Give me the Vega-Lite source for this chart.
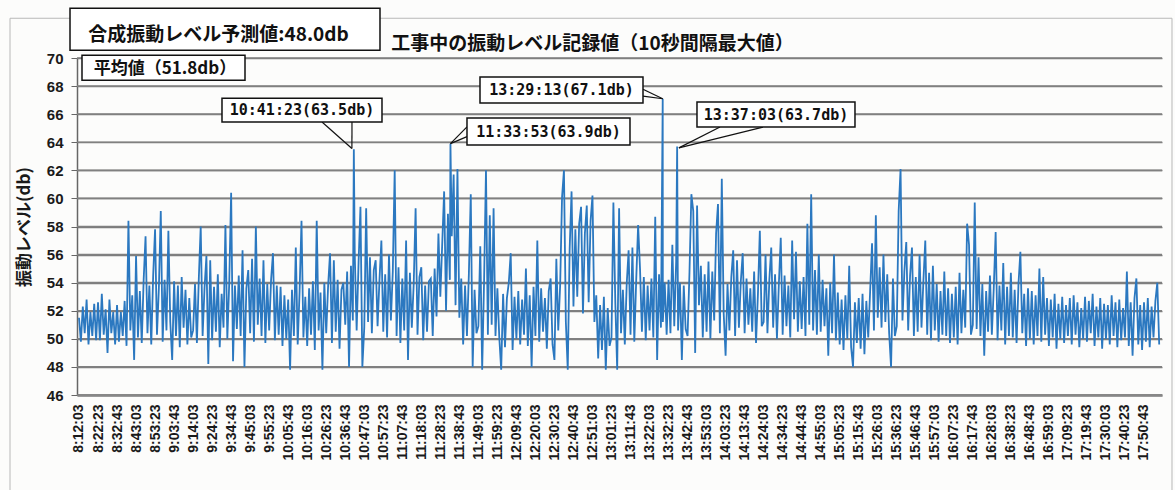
{
  "$schema": "https://vega.github.io/schema/vega-lite/v6.json",
  "width": 1085,
  "height": 337,
  "autosize": {"type": "none"},
  "padding": {"left": 77, "top": 58, "right": 13, "bottom": 95},
  "background": "#fcfcfb",
  "config": {
    "view": {"stroke": null},
    "axis": {"labelFont": "Liberation Sans", "labelFontWeight": "bold", "labelColor": "#1a1a1a", "titleFont": "Noto Sans CJK JP", "titleFontWeight": "bold", "titleColor": "#1a1a1a"}
  },
  "datasets": {
    "frame": [{"s": 27274, "s2": 65156, "v": 37.5, "v2": 72.83}],
    "levels": [
      {"v": 46, "s": 29458, "s2": 64830, "v2": 46}, {"v": 48, "s": 29458, "s2": 64830, "v2": 48}, {"v": 50, "s": 29458, "s2": 64830, "v2": 50}, {"v": 52, "s": 29458, "s2": 64830, "v2": 52},
      {"v": 54, "s": 29458, "s2": 64830, "v2": 54}, {"v": 56, "s": 29458, "s2": 64830, "v2": 56}, {"v": 58, "s": 29458, "s2": 64830, "v2": 58}, {"v": 60, "s": 29458, "s2": 64830, "v2": 60},
      {"v": 62, "s": 29458, "s2": 64830, "v2": 62}, {"v": 64, "s": 29458, "s2": 64830, "v2": 64}, {"v": 66, "s": 29458, "s2": 64830, "v2": 66}, {"v": 68, "s": 29458, "s2": 64830, "v2": 68},
      {"v": 70, "s": 29458, "s2": 64830, "v2": 70}
    ],
    "boxes": [
      {"s": 29230, "s2": 39336, "v": 70.55, "v2": 73.54},
      {"s": 29621, "s2": 34935, "v": 68.42, "v2": 70.2},
      {"s": 34185, "s2": 39401, "v": 65.44, "v2": 67.14},
      {"s": 42172, "s2": 47486, "v": 63.8, "v2": 65.72},
      {"s": 42596, "s2": 47910, "v": 66.79, "v2": 68.64},
      {"s": 49670, "s2": 54821, "v": 65.08, "v2": 66.86}
    ],
    "headings": [
      {"kind": "title", "label": "工事中の振動レベル記録値（10秒間隔最大値）", "s": 46264, "v": 70.98},
      {"kind": "forecast", "label": "合成振動レベル予測値:48.0db", "s": 34071, "v": 71.65},
      {"kind": "mean", "label": "平均値（51.8db）", "s": 32327, "v": 69.25}
    ],
    "callouts": [
      {"label": "10:41:23(63.5db)", "s": 36793, "v": 66.29},
      {"label": "11:33:53(63.9db)", "s": 44829, "v": 64.76},
      {"label": "13:29:13(67.1db)", "s": 45253, "v": 67.71},
      {"label": "13:37:03(63.7db)", "s": 52246, "v": 65.97}
    ],
    "tails": [
      {"s": 37445, "v": 65.44, "s2": 38420, "v2": 63.55},
      {"s": 38423, "v": 65.44, "s2": 38420, "v2": 63.55},
      {"s": 42172, "v": 65.1, "s2": 41633, "v2": 63.9},
      {"s": 42172, "v": 64.4, "s2": 41633, "v2": 63.9},
      {"s": 47910, "v": 67.78, "s2": 48553, "v2": 67.1},
      {"s": 47910, "v": 67.29, "s2": 48553, "v2": 67.1},
      {"s": 50420, "v": 65.08, "s2": 49080, "v2": 63.6},
      {"s": 51822, "v": 65.08, "s2": 49080, "v2": 63.6}
    ],
    "vib": [
      {"s":29523,"v":51.5},{"s":29585,"v":49.8},{"s":29647,"v":52.3},{"s":29709,"v":50.4},{"s":29771,"v":52.8},{"s":29833,"v":49.6},{"s":29895,"v":51.9},{"s":29957,"v":50.2},{"s":30019,"v":52.5},{"s":30081,"v":49.9},
      {"s":30143,"v":52.6},{"s":30205,"v":49.9},{"s":30267,"v":53.2},{"s":30329,"v":50.3},{"s":30391,"v":52.1},{"s":30453,"v":49.0},{"s":30515,"v":52.8},{"s":30577,"v":50.4},{"s":30639,"v":51.9},{"s":30701,"v":49.6},
      {"s":30763,"v":52.4},{"s":30825,"v":49.8},{"s":30887,"v":51.9},{"s":30949,"v":50.2},{"s":31011,"v":52.7},{"s":31073,"v":49.5},{"s":31135,"v":58.4},{"s":31197,"v":50.6},{"s":31259,"v":53.1},{"s":31321,"v":48.5},
      {"s":31383,"v":55.9},{"s":31445,"v":50.1},{"s":31507,"v":53.4},{"s":31569,"v":49.7},{"s":31631,"v":54.2},{"s":31693,"v":57.3},{"s":31755,"v":50.4},{"s":31817,"v":53.8},{"s":31879,"v":49.6},{"s":31941,"v":54.5},
      {"s":32003,"v":57.8},{"s":32065,"v":50.3},{"s":32127,"v":53.6},{"s":32189,"v":59.1},{"s":32251,"v":49.8},{"s":32313,"v":54.2},{"s":32375,"v":50.6},{"s":32437,"v":57.7},{"s":32499,"v":51.2},{"s":32561,"v":48.5},
      {"s":32623,"v":54.1},{"s":32685,"v":50.2},{"s":32747,"v":53.8},{"s":32809,"v":49.4},{"s":32871,"v":54.4},{"s":32933,"v":50.8},{"s":32995,"v":53.5},{"s":33057,"v":49.6},{"s":33119,"v":52.9},{"s":33181,"v":50.1},
      {"s":33243,"v":50.6},{"s":33305,"v":53.9},{"s":33367,"v":49.7},{"s":33429,"v":54.3},{"s":33491,"v":58.0},{"s":33553,"v":50.2},{"s":33615,"v":53.6},{"s":33677,"v":55.9},{"s":33739,"v":48.2},{"s":33801,"v":55.6},
      {"s":33863,"v":49.9},{"s":33925,"v":53.7},{"s":33987,"v":50.5},{"s":34049,"v":54.6},{"s":34111,"v":49.4},{"s":34173,"v":53.2},{"s":34235,"v":50.8},{"s":34297,"v":58.1},{"s":34359,"v":50.0},{"s":34421,"v":54.0},
      {"s":34483,"v":60.4},{"s":34545,"v":48.4},{"s":34607,"v":53.8},{"s":34669,"v":50.7},{"s":34731,"v":54.5},{"s":34793,"v":50.2},{"s":34855,"v":56.3},{"s":34917,"v":48.0},{"s":34979,"v":53.6},{"s":35041,"v":54.9},
      {"s":35103,"v":50.4},{"s":35165,"v":55.7},{"s":35227,"v":49.8},{"s":35289,"v":58.0},{"s":35351,"v":51.0},{"s":35413,"v":54.3},{"s":35475,"v":50.2},{"s":35537,"v":55.6},{"s":35599,"v":49.7},{"s":35661,"v":53.9},
      {"s":35723,"v":50.6},{"s":35785,"v":54.2},{"s":35847,"v":56.1},{"s":35909,"v":49.9},{"s":35971,"v":53.8},{"s":36033,"v":50.3},{"s":36095,"v":53.7},{"s":36157,"v":49.5},{"s":36219,"v":53.1},{"s":36281,"v":50.0},
      {"s":36343,"v":52.8},{"s":36405,"v":47.8},{"s":36467,"v":53.5},{"s":36529,"v":50.2},{"s":36591,"v":56.5},{"s":36653,"v":49.6},{"s":36715,"v":53.4},{"s":36777,"v":58.4},{"s":36839,"v":50.1},{"s":36901,"v":53.0},
      {"s":36963,"v":49.5},{"s":37025,"v":53.6},{"s":37087,"v":50.3},{"s":37149,"v":54.1},{"s":37211,"v":49.2},{"s":37273,"v":58.4},{"s":37335,"v":50.6},{"s":37397,"v":53.3},{"s":37459,"v":47.8},{"s":37521,"v":54.0},
      {"s":37583,"v":50.4},{"s":37645,"v":53.8},{"s":37707,"v":56.1},{"s":37769,"v":49.7},{"s":37831,"v":55.6},{"s":37893,"v":50.5},{"s":37955,"v":54.2},{"s":38017,"v":49.3},{"s":38079,"v":53.5},{"s":38141,"v":54.0},
      {"s":38203,"v":51.0},{"s":38265,"v":54.8},{"s":38327,"v":48.0},{"s":38389,"v":55.2},{"s":38451,"v":51.3},{"s":38483,"v":63.5},{"s":38513,"v":56.0},{"s":38575,"v":50.6},{"s":38637,"v":55.4},{"s":38699,"v":59.4},{"s":38761,"v":48.0},
      {"s":38823,"v":50.8},{"s":38885,"v":59.3},{"s":38947,"v":51.2},{"s":39009,"v":55.8},{"s":39071,"v":50.4},{"s":39133,"v":54.9},{"s":39195,"v":55.6},{"s":39257,"v":50.9},{"s":39319,"v":54.2},{"s":39381,"v":57.0},
      {"s":39443,"v":50.5},{"s":39505,"v":54.6},{"s":39567,"v":50.1},{"s":39629,"v":56.0},{"s":39691,"v":51.3},{"s":39753,"v":54.8},{"s":39815,"v":62.0},{"s":39877,"v":50.2},{"s":39939,"v":55.1},{"s":40001,"v":49.7},
      {"s":40063,"v":54.3},{"s":40125,"v":50.6},{"s":40187,"v":57.0},{"s":40249,"v":48.5},{"s":40311,"v":54.7},{"s":40373,"v":50.8},{"s":40435,"v":53.9},{"s":40497,"v":59.3},{"s":40559,"v":50.3},{"s":40621,"v":54.4},
      {"s":40683,"v":55.1},{"s":40745,"v":49.9},{"s":40807,"v":53.8},{"s":40869,"v":50.5},{"s":40931,"v":54.1},{"s":40993,"v":54.3},{"s":41055,"v":50.2},{"s":41117,"v":55.0},{"s":41179,"v":51.6},{"s":41241,"v":57.5},
      {"s":41303,"v":53.0},{"s":41365,"v":56.8},{"s":41427,"v":60.5},{"s":41489,"v":52.0},{"s":41551,"v":58.9},{"s":41613,"v":54.2},{"s":41633,"v":63.9},{"s":41675,"v":57.3},{"s":41737,"v":61.7},{"s":41799,"v":52.4},{"s":41861,"v":62.1},
      {"s":41923,"v":51.5},{"s":41985,"v":54.3},{"s":42047,"v":49.6},{"s":42109,"v":53.8},{"s":42171,"v":50.2},{"s":42233,"v":54.6},{"s":42295,"v":60.3},{"s":42357,"v":48.0},{"s":42419,"v":53.5},{"s":42481,"v":50.4},
      {"s":42543,"v":50.9},{"s":42605,"v":56.6},{"s":42667,"v":47.8},{"s":42729,"v":54.1},{"s":42791,"v":62.0},{"s":42853,"v":50.3},{"s":42915,"v":58.8},{"s":42977,"v":51.0},{"s":43039,"v":59.3},{"s":43101,"v":50.2},
      {"s":43163,"v":53.6},{"s":43225,"v":50.1},{"s":43287,"v":47.8},{"s":43349,"v":53.2},{"s":43411,"v":49.4},{"s":43473,"v":52.9},{"s":43535,"v":54.0},{"s":43597,"v":56.1},{"s":43659,"v":49.2},{"s":43721,"v":53.0},
      {"s":43783,"v":50.0},{"s":43845,"v":53.4},{"s":43907,"v":49.6},{"s":43969,"v":52.8},{"s":44031,"v":50.3},{"s":44093,"v":55.0},{"s":44155,"v":49.5},{"s":44217,"v":53.1},{"s":44279,"v":48.0},{"s":44341,"v":53.7},
      {"s":44403,"v":50.2},{"s":44465,"v":57.0},{"s":44527,"v":49.8},{"s":44589,"v":53.6},{"s":44651,"v":50.5},{"s":44713,"v":52.9},{"s":44775,"v":49.3},{"s":44837,"v":53.4},{"s":44899,"v":54.3},{"s":44961,"v":49.6},
      {"s":45023,"v":48.5},{"s":45085,"v":55.7},{"s":45147,"v":50.6},{"s":45209,"v":53.8},{"s":45271,"v":60.1},{"s":45333,"v":62.0},{"s":45395,"v":51.2},{"s":45457,"v":47.8},{"s":45519,"v":56.4},{"s":45581,"v":60.5},
      {"s":45643,"v":52.3},{"s":45705,"v":57.8},{"s":45767,"v":53.0},{"s":45829,"v":58.2},{"s":45891,"v":59.4},{"s":45953,"v":51.8},{"s":46015,"v":57.5},{"s":46077,"v":59.5},{"s":46139,"v":52.6},{"s":46201,"v":58.4},
      {"s":46263,"v":60.2},{"s":46325,"v":51.2},{"s":46387,"v":53.1},{"s":46449,"v":48.6},{"s":46511,"v":52.4},{"s":46573,"v":49.2},{"s":46635,"v":53.0},{"s":46697,"v":47.8},{"s":46759,"v":52.2},{"s":46821,"v":49.5},
      {"s":46883,"v":50.1},{"s":46945,"v":59.7},{"s":47007,"v":52.6},{"s":47069,"v":47.8},{"s":47131,"v":59.3},{"s":47193,"v":50.4},{"s":47255,"v":53.5},{"s":47317,"v":49.6},{"s":47379,"v":53.9},{"s":47441,"v":56.3},
      {"s":47503,"v":50.3},{"s":47565,"v":56.5},{"s":47627,"v":49.8},{"s":47689,"v":54.2},{"s":47751,"v":58.1},{"s":47813,"v":55.0},{"s":47875,"v":50.5},{"s":47937,"v":54.4},{"s":47999,"v":49.9},{"s":48061,"v":53.8},
      {"s":48123,"v":50.6},{"s":48185,"v":54.3},{"s":48247,"v":50.1},{"s":48309,"v":58.7},{"s":48371,"v":48.5},{"s":48433,"v":54.6},{"s":48495,"v":50.8},{"s":48553,"v":67.1},{"s":48557,"v":51.2},{"s":48619,"v":54.0},{"s":48681,"v":50.3},
      {"s":48743,"v":54.2},{"s":48805,"v":50.4},{"s":48867,"v":56.7},{"s":48929,"v":50.9},{"s":48991,"v":55.5},{"s":49023,"v":63.7},{"s":49053,"v":50.6},{"s":49115,"v":54.0},{"s":49177,"v":48.5},{"s":49239,"v":53.8},{"s":49301,"v":50.7},
      {"s":49363,"v":50.2},{"s":49425,"v":54.7},{"s":49487,"v":60.3},{"s":49549,"v":59.1},{"s":49611,"v":49.0},{"s":49673,"v":59.5},{"s":49735,"v":52.4},{"s":49797,"v":55.2},{"s":49859,"v":50.1},{"s":49921,"v":54.6},
      {"s":49983,"v":50.5},{"s":50045,"v":55.5},{"s":50107,"v":50.0},{"s":50169,"v":54.8},{"s":50231,"v":51.3},{"s":50293,"v":57.5},{"s":50355,"v":59.6},{"s":50417,"v":50.4},{"s":50479,"v":61.4},{"s":50541,"v":51.8},
      {"s":50603,"v":48.8},{"s":50665,"v":53.9},{"s":50727,"v":50.6},{"s":50789,"v":54.4},{"s":50851,"v":56.3},{"s":50913,"v":50.2},{"s":50975,"v":55.6},{"s":51037,"v":50.8},{"s":51099,"v":54.1},{"s":51161,"v":56.1},
      {"s":51223,"v":50.4},{"s":51285,"v":54.3},{"s":51347,"v":51.0},{"s":51409,"v":53.6},{"s":51471,"v":50.5},{"s":51533,"v":54.8},{"s":51595,"v":49.7},{"s":51657,"v":53.2},{"s":51719,"v":57.7},{"s":51781,"v":50.9},
      {"s":51843,"v":51.2},{"s":51905,"v":56.0},{"s":51967,"v":50.4},{"s":52029,"v":54.2},{"s":52091,"v":56.5},{"s":52153,"v":50.8},{"s":52215,"v":54.6},{"s":52277,"v":50.0},{"s":52339,"v":53.9},{"s":52401,"v":57.2},
      {"s":52463,"v":50.3},{"s":52525,"v":54.5},{"s":52587,"v":50.9},{"s":52649,"v":53.8},{"s":52711,"v":50.1},{"s":52773,"v":57.0},{"s":52835,"v":51.4},{"s":52897,"v":56.2},{"s":52959,"v":50.5},{"s":53021,"v":54.1},
      {"s":53083,"v":50.7},{"s":53145,"v":54.4},{"s":53207,"v":50.2},{"s":53269,"v":58.2},{"s":53331,"v":51.0},{"s":53393,"v":60.3},{"s":53455,"v":50.6},{"s":53517,"v":54.9},{"s":53579,"v":50.3},{"s":53641,"v":56.0},
      {"s":53703,"v":50.5},{"s":53765,"v":54.2},{"s":53827,"v":50.9},{"s":53889,"v":53.6},{"s":53951,"v":48.8},{"s":54013,"v":54.0},{"s":54075,"v":50.4},{"s":54137,"v":56.0},{"s":54199,"v":49.9},{"s":54261,"v":53.3},
      {"s":54323,"v":49.6},{"s":54385,"v":52.8},{"s":54447,"v":49.2},{"s":54509,"v":53.1},{"s":54571,"v":50.0},{"s":54633,"v":55.2},{"s":54695,"v":49.4},{"s":54757,"v":48.0},{"s":54819,"v":52.6},{"s":54881,"v":49.7},
      {"s":54943,"v":52.9},{"s":55005,"v":49.3},{"s":55067,"v":53.2},{"s":55129,"v":48.9},{"s":55191,"v":52.7},{"s":55253,"v":50.1},{"s":55315,"v":53.4},{"s":55377,"v":56.8},{"s":55439,"v":50.6},{"s":55501,"v":58.8},
      {"s":55563,"v":51.5},{"s":55625,"v":55.1},{"s":55687,"v":50.8},{"s":55749,"v":56.0},{"s":55811,"v":51.2},{"s":55873,"v":54.6},{"s":55935,"v":50.4},{"s":55997,"v":48.0},{"s":56059,"v":54.3},{"s":56121,"v":50.2},
      {"s":56183,"v":50.9},{"s":56245,"v":59.1},{"s":56307,"v":62.1},{"s":56369,"v":51.3},{"s":56431,"v":54.8},{"s":56493,"v":56.9},{"s":56555,"v":50.6},{"s":56617,"v":54.5},{"s":56679,"v":56.5},{"s":56741,"v":50.2},
      {"s":56803,"v":54.4},{"s":56865,"v":50.5},{"s":56927,"v":56.0},{"s":56989,"v":50.8},{"s":57051,"v":54.1},{"s":57113,"v":57.0},{"s":57175,"v":50.3},{"s":57237,"v":54.7},{"s":57299,"v":49.9},{"s":57361,"v":55.2},
      {"s":57423,"v":50.6},{"s":57485,"v":53.9},{"s":57547,"v":49.8},{"s":57609,"v":53.4},{"s":57671,"v":50.3},{"s":57733,"v":54.8},{"s":57795,"v":50.2},{"s":57857,"v":53.6},{"s":57919,"v":49.7},{"s":57981,"v":53.2},
      {"s":58043,"v":50.1},{"s":58105,"v":53.7},{"s":58167,"v":49.6},{"s":58229,"v":54.7},{"s":58291,"v":50.4},{"s":58353,"v":53.5},{"s":58415,"v":50.8},{"s":58477,"v":58.2},{"s":58539,"v":56.7},{"s":58601,"v":50.3},
      {"s":58663,"v":51.0},{"s":58725,"v":59.7},{"s":58787,"v":50.7},{"s":58849,"v":55.8},{"s":58911,"v":50.2},{"s":58973,"v":53.9},{"s":59035,"v":48.8},{"s":59097,"v":53.4},{"s":59159,"v":50.5},{"s":59221,"v":54.5},
      {"s":59283,"v":50.3},{"s":59345,"v":53.6},{"s":59407,"v":57.6},{"s":59469,"v":49.9},{"s":59531,"v":53.8},{"s":59593,"v":50.6},{"s":59655,"v":55.4},{"s":59717,"v":49.6},{"s":59779,"v":53.7},{"s":59841,"v":50.2},
      {"s":59903,"v":54.7},{"s":59965,"v":50.1},{"s":60027,"v":53.5},{"s":60089,"v":49.7},{"s":60151,"v":53.9},{"s":60213,"v":56.2},{"s":60275,"v":50.4},{"s":60337,"v":53.2},{"s":60399,"v":49.5},{"s":60461,"v":53.6},
      {"s":60523,"v":50.0},{"s":60585,"v":53.4},{"s":60647,"v":49.6},{"s":60709,"v":53.1},{"s":60771,"v":50.2},{"s":60833,"v":55.0},{"s":60895,"v":49.8},{"s":60957,"v":54.4},{"s":61019,"v":50.3},{"s":61081,"v":52.9},
      {"s":61143,"v":49.5},{"s":61205,"v":52.8},{"s":61267,"v":50.1},{"s":61329,"v":53.2},{"s":61391,"v":49.3},{"s":61453,"v":52.5},{"s":61515,"v":50.0},{"s":61577,"v":53.0},{"s":61639,"v":49.7},{"s":61701,"v":52.4},
      {"s":61763,"v":50.2},{"s":61825,"v":52.9},{"s":61887,"v":49.6},{"s":61949,"v":53.1},{"s":62011,"v":50.3},{"s":62073,"v":52.6},{"s":62135,"v":49.4},{"s":62197,"v":52.2},{"s":62259,"v":50.0},{"s":62321,"v":53.0},
      {"s":62383,"v":49.8},{"s":62445,"v":52.7},{"s":62507,"v":50.4},{"s":62569,"v":53.2},{"s":62631,"v":49.5},{"s":62693,"v":52.3},{"s":62755,"v":50.1},{"s":62817,"v":52.9},{"s":62879,"v":49.3},{"s":62941,"v":52.5},
      {"s":63003,"v":50.0},{"s":63065,"v":52.4},{"s":63127,"v":49.6},{"s":63189,"v":53.1},{"s":63251,"v":50.2},{"s":63313,"v":52.6},{"s":63375,"v":49.4},{"s":63437,"v":52.8},{"s":63499,"v":49.9},{"s":63561,"v":52.2},
      {"s":63623,"v":50.1},{"s":63685,"v":54.8},{"s":63747,"v":49.5},{"s":63809,"v":52.6},{"s":63871,"v":48.8},{"s":63933,"v":52.9},{"s":63995,"v":54.3},{"s":64057,"v":49.6},{"s":64119,"v":52.4},{"s":64181,"v":49.2},
      {"s":64243,"v":52.6},{"s":64305,"v":49.8},{"s":64367,"v":52.9},{"s":64429,"v":49.4},{"s":64491,"v":52.3},{"s":64553,"v":50.1},{"s":64615,"v":52.7},{"s":64677,"v":54.0},{"s":64739,"v":49.6}
    ]
  },
  "encoding": {
    "x": {"field": "s", "type": "quantitative", "scale": {"domain": [29458, 64830], "nice": false, "zero": false},
      "axis": {"title": null, "values": [29523,30143,30763,31383,32003,32623,33243,33863,34483,35103,35723,36343,36963,37583,38203,38823,39443,40063,40683,41303,41923,42543,43163,43783,44403,45023,45643,46263,46883,47503,48123,48743,49363,49983,50603,51223,51843,52463,53083,53703,54323,54943,55563,56183,56803,57423,58043,58663,59283,59903,60523,61143,61763,62383,63003,63623,64243],
        "labelExpr": "utcFormat(datum.value * 1000, '%-H:%M:%S')", "labelAngle": 270, "labelAlign": "right", "labelBaseline": "middle", "labelFontSize": 14, "labelPadding": 9, "ticks": false, "grid": false, "domainColor": "#9a9a9a", "domainWidth": 3, "labelOverlap": false, "labelFlush": false, "labelBound": false}},
    "y": {"field": "v", "type": "quantitative", "scale": {"domain": [46, 70], "nice": false, "zero": false},
      "axis": {"title": "振動レベル(db)", "values": [46,48,50,52,54,56,58,60,62,64,66,68,70], "grid": true, "gridColor": "#7d7d7d", "gridWidth": 1.5, "gridOpacity": 1, "domainColor": "#666666", "domainWidth": 1.5, "tickColor": "#666666", "tickSize": 6, "labelFontSize": 15, "labelPadding": 8, "titleFontSize": 17, "titlePadding": 13}}
  },
  "layer": [
    {
      "data": {"name": "frame"},
      "mark": {"type": "rect", "fill": "transparent", "fillOpacity": 0, "stroke": "#b8b8b8", "strokeWidth": 1},
      "encoding": {"x2": {"field": "s2"}, "y2": {"field": "v2"}}
    },
    {
      "data": {"name": "levels"},
      "mark": {"type": "rule", "stroke": "#808080", "strokeWidth": 1.6},
      "encoding": {"x2": {"field": "s2"}, "y2": {"field": "v2"}}
    },
    {
      "data": {"name": "vib"},
      "mark": {"type": "line", "color": "#2b78c0", "strokeWidth": 1.8, "interpolate": "linear"},
      "encoding": {}
    },
    {
      "data": {"name": "tails"},
      "mark": {"type": "rule", "color": "#111111", "strokeWidth": 1.2},
      "encoding": {"x2": {"field": "s2"}, "y2": {"field": "v2"}}
    },
    {
      "data": {"name": "boxes"},
      "mark": {"type": "rect", "fill": "#ffffff", "stroke": "#111111", "strokeWidth": 1.5},
      "encoding": {"x2": {"field": "s2"}, "y2": {"field": "v2"}}
    },
    {
      "data": {"name": "headings"},
      "mark": {"type": "text", "font": "Noto Sans CJK JP", "fontWeight": "bold", "color": "#111111", "align": "center", "baseline": "middle"},
      "encoding": {
        "text": {"field": "label"},
        "size": {"field": "kind", "type": "nominal", "scale": {"type": "ordinal", "domain": ["title", "forecast", "mean"], "range": [19, 19, 17]}, "legend": null}
      }
    },
    {
      "data": {"name": "callouts"},
      "mark": {"type": "text", "font": "DejaVu Sans Mono", "fontWeight": "bold", "fontSize": 15, "color": "#111111", "align": "center", "baseline": "middle"},
      "encoding": {"text": {"field": "label"}}
    }
  ]
}
